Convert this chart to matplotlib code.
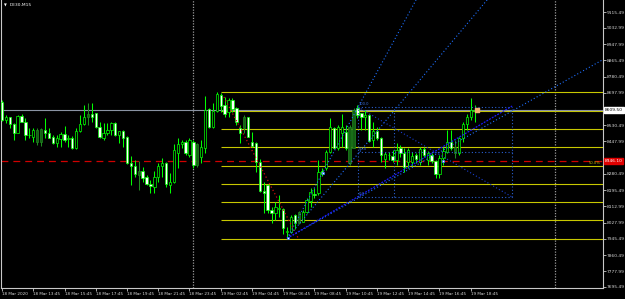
import numpy as np
import matplotlib.pyplot as plt

# --- candles (DE30, M15) ---
opens = [8652, 8558, 8572, 8537, 8492, 8579, 8546, 8480, 8472, 8446, 8446, 8506, 8489, 8472, 8437, 8460,
         8484, 8458, 8463, 8412, 8503, 8536, 8575, 8587, 8592, 8523, 8466, 8492, 8506, 8541, 8480, 8501,
         8472, 8334, 8322, 8274, 8294, 8265, 8227, 8213, 8265, 8320, 8334, 8222, 8239, 8386, 8432, 8443,
         8377, 8443, 8325, 8368, 8415, 8613, 8523, 8604, 8687, 8635, 8601, 8661, 8618, 8518, 8518, 8572,
         8443, 8441, 8342, 8191, 8222, 8093, 8076, 8098, 8098, 7979, 7981, 8067, 8024, 8033, 8084, 8139,
         8176, 8179, 8294, 8308, 8394, 8515, 8412, 8489, 8497, 8334, 8412, 8618, 8592, 8572, 8584, 8455,
         8501, 8463, 8356, 8377, 8373, 8351, 8412, 8386, 8339, 8339, 8377, 8342, 8408, 8351, 8377, 8346,
         8277, 8363, 8394, 8446, 8386, 8386, 8463, 8536, 8575, 8604]
highs = [8661, 8584, 8575, 8541, 8584, 8587, 8567, 8515, 8515, 8515, 8515, 8567, 8515, 8480, 8480, 8497,
         8527, 8480, 8475, 8515, 8584, 8635, 8644, 8644, 8596, 8549, 8541, 8541, 8549, 8546, 8501, 8506,
         8475, 8372, 8351, 8346, 8317, 8274, 8248, 8294, 8334, 8363, 8343, 8282, 8432, 8463, 8455, 8455,
         8463, 8455, 8437, 8455, 8682, 8618, 8644, 8701, 8696, 8678, 8670, 8670, 8626, 8532, 8584, 8575,
         8497, 8443, 8356, 8239, 8226, 8110, 8136, 8171, 8102, 8007, 8067, 8071, 8088, 8093, 8153, 8205,
         8205, 8351, 8311, 8403, 8567, 8523, 8532, 8587, 8532, 8532, 8618, 8635, 8592, 8610, 8587, 8549,
         8523, 8472, 8394, 8394, 8403, 8437, 8429, 8412, 8415, 8394, 8386, 8420, 8420, 8398, 8386, 8351,
         8377, 8420, 8506, 8506, 8455, 8472, 8549, 8587, 8670, 8635]
lows = [8553, 8541, 8515, 8455, 8489, 8546, 8455, 8463, 8446, 8429, 8424, 8463, 8463, 8432, 8420, 8420,
        8446, 8420, 8408, 8408, 8497, 8532, 8532, 8549, 8518, 8463, 8455, 8480, 8480, 8477, 8437, 8420,
        8331, 8222, 8265, 8196, 8239, 8222, 8179, 8182, 8239, 8265, 8213, 8182, 8231, 8308, 8412, 8377,
        8368, 8308, 8317, 8334, 8386, 8515, 8515, 8601, 8601, 8575, 8575, 8601, 8532, 8437, 8489, 8468,
        8420, 8288, 8188, 8079, 8076, 8027, 8041, 8058, 7969, 7947, 7973, 7997, 8019, 8030, 8076, 8110,
        8153, 8171, 8270, 8300, 8386, 8408, 8403, 8420, 8403, 8325, 8412, 8567, 8506, 8506, 8446, 8420,
        8455, 8339, 8308, 8351, 8339, 8325, 8368, 8288, 8308, 8322, 8334, 8325, 8368, 8325, 8334, 8260,
        8257, 8325, 8386, 8403, 8360, 8377, 8446, 8506, 8558, 8549]
closes = [8558, 8572, 8537, 8492, 8579, 8549, 8480, 8478, 8506, 8506, 8510, 8492, 8466, 8437, 8463, 8484,
          8455, 8466, 8412, 8503, 8536, 8575, 8587, 8575, 8520, 8472, 8492, 8506, 8541, 8480, 8501, 8466,
          8334, 8322, 8277, 8294, 8257, 8227, 8217, 8265, 8320, 8334, 8227, 8239, 8403, 8432, 8443, 8386,
          8455, 8325, 8432, 8420, 8610, 8523, 8604, 8691, 8632, 8587, 8661, 8615, 8549, 8492, 8575, 8472,
          8425, 8342, 8191, 8179, 8093, 8076, 8110, 8103, 7999, 7985, 8058, 8024, 8081, 8084, 8145, 8184,
          8173, 8288, 8277, 8394, 8523, 8412, 8523, 8523, 8412, 8523, 8610, 8584, 8575, 8584, 8449, 8501,
          8463, 8377, 8381, 8376, 8351, 8403, 8386, 8317, 8403, 8373, 8356, 8408, 8377, 8386, 8346, 8277,
          8363, 8398, 8446, 8412, 8420, 8463, 8536, 8575, 8610, 8610]
dim_bars = [9, 10, 22, 35, 50, 62, 76, 89, 90, 116]

# --- axis labels ---
time_labels = ["18 Mar 2020", "18 Mar 13:45", "18 Mar 15:45", "18 Mar 17:45", "18 Mar 19:45",
               "18 Mar 21:45", "18 Mar 23:45", "19 Mar 02:45", "19 Mar 04:45", "19 Mar 06:45",
               "19 Mar 08:45", "19 Mar 10:45", "19 Mar 12:45", "19 Mar 14:45", "19 Mar 16:45",
               "19 Mar 18:45"]
# labels under the two price boxes are hidden, so they are left out
price_ticks = [9115.49, 9032.99, 8947.99, 8865.49, 8780.49, 8697.99, 8530.49, 8447.99,
               8280.49, 8195.49, 8112.99, 8027.99, 7945.49, 7860.49, 7777.99, 7695.49]

# --- objects on the chart ---
bid_price = 8609.50
red_level = 8346.1
fib_levels = [8700, 8605, 8510, 8417, 8322, 8227, 8133, 8040, 7942]
fib_start = 56.1
separators = [49.0, 141.5]
red_trend = ([56.8, 75.8], [8677, 7949])
fan_steep = ([73, 106], [7947, 9178])
fan_mid = ([73, 124.2], [7947, 9178])
fan_low = ([73, 130.6], [7947, 8630])
fan_ray = ([73, 153.7], [7947, 8868])
box_x = [91.1, 100.4, 130.6]
box_levels = [8625, 8393, 8160]
box_names = ["100.0", "50.0", "0.0"]
box_diag = ([91.1, 130.6], [8625, 8160])

x_left, x_right = -0.13, 153.74
y_bottom, y_top = 7692.85, 9177.5

fig = plt.figure(figsize=(6.25, 2.99), dpi=100, facecolor="black")
ax = fig.add_axes([1.5 / 625, 11.5 / 299, 601 / 625, 287.5 / 299])
ax.set_facecolor("black")

# --- candles ---
x = np.arange(len(opens))
o = np.array(opens, float)
h = np.array(highs, float)
l = np.array(lows, float)
c = np.array(closes, float)
is_dim = np.isin(x, dim_bars)
wick_col = np.where(is_dim, "#1f8a1f", "#00ff00")
face_col = np.where(is_dim, "#146014", np.where(c >= o, "black", "white"))
ax.vlines(x, l, h, colors=wick_col, linewidth=0.75, zorder=3)
ax.bar(x, np.maximum(np.abs(c - o), 1.0), bottom=np.minimum(o, c), width=0.6,
       color=face_col, edgecolor=wick_col, linewidth=0.5, zorder=4)

# --- horizontal levels ---
ax.hlines(fib_levels, fib_start, x_right, colors="#c8c800", linewidth=0.8, zorder=2)
ax.text(x_right - 0.5, fib_levels[4] + 6, "50.0%", color="#c8c800", fontsize=2.6,
        ha="right", va="bottom", zorder=5)
ax.axhline(bid_price, color="#8a93a3", linewidth=0.8, zorder=2)
ax.axhline(red_level, color="#d00000", linewidth=0.9, linestyle=(0, (5.5, 4)), zorder=2)
for s in separators:
    ax.axvline(s, color="#9a9a9a", linewidth=0.9, linestyle=(0, (1, 1.2)), zorder=1)

# --- trend lines / fan ---
dots = (0, (1, 2))
ax.plot(*red_trend, color="#d01010", linewidth=0.9, linestyle=dots, zorder=5)
ax.plot(*fan_steep, color="#1e6fff", linewidth=0.8, linestyle=dots, zorder=5)
ax.plot(*fan_mid, color="#1e6fff", linewidth=0.8, linestyle=dots, zorder=5)
ax.plot(*fan_ray, color="#1e6fff", linewidth=0.8, linestyle=dots, zorder=5)
ax.plot(*fan_low, color="#1a1aff", linewidth=0.9, linestyle=(0, (1.5, 1)), zorder=5)

# --- dotted box with levels ---
for lv, name in zip(box_levels, box_names):
    ax.hlines(lv, box_x[0], box_x[-1], colors="#2a5fd0", linewidth=0.8, linestyles=[dots], zorder=5)
    ax.text(box_x[0] + 0.2, lv + 4, name, color="#3a70e0", fontsize=2.6, ha="left", va="bottom", zorder=6)
ax.vlines(box_x, box_levels[-1], box_levels[0], colors="#2a5fd0", linewidth=0.8, linestyles=[dots], zorder=5)
ax.plot(*box_diag, color="#1a3fd0", linewidth=0.8, linestyle=dots, zorder=5)

# --- anchor markers ---
ax.scatter([73.3, 82.3, 113.0], [7947, 8283, 8346], s=4, marker="s", facecolor="white",
           edgecolor="#1e6fff", linewidth=0.5, zorder=7)
ax.scatter([121.7], [8609.5], s=5, marker="s", facecolor="#f0b070", edgecolor="#f0b070", zorder=7)

# --- axes ---
ax.set_xlim(x_left, x_right)
ax.set_ylim(y_bottom, y_top)
ax.set_xticks(np.arange(0, 121, 8))
ax.set_xticklabels(time_labels)
for t in ax.get_xticklabels():
    t.set_ha("left")
ax.set_yticks(price_ticks)
ax.set_yticklabels([f"{v:.2f}" for v in price_ticks])
ax.yaxis.tick_right()
ax.tick_params(axis="y", length=2, width=0.6, color="#c8c8c8", labelsize=3.2,
               labelcolor="#d8d8d8", pad=1)
ax.tick_params(axis="x", length=2, width=0.6, color="#c8c8c8", labelsize=3.0,
               labelcolor="#d8d8d8", pad=1)
for side in ["left", "right", "bottom"]:
    ax.spines[side].set_color("#c8c8c8")
    ax.spines[side].set_linewidth(0.8)
ax.spines["top"].set_visible(False)

# --- price boxes on the right scale ---
ax.text(1.004, bid_price, f"{bid_price:.2f}", transform=ax.get_yaxis_transform(), fontsize=3.2,
        color="black", ha="left", va="center", zorder=8,
        bbox=dict(boxstyle="square,pad=0.15", facecolor="white", edgecolor="white"))
ax.text(1.004, red_level, f"{red_level:.2f}", transform=ax.get_yaxis_transform(), fontsize=3.2,
        color="white", ha="left", va="center", zorder=8,
        bbox=dict(boxstyle="square,pad=0.15", facecolor="#e00000", edgecolor="#e00000"))

# --- title ---
fig.text(4 / 625, 1 - 5.5 / 299, "\u25bc", color="white", fontsize=2.6, va="center")
fig.text(10 / 625, 1 - 5.5 / 299, "DE30,M15", color="white", fontsize=3.2, va="center")

fig.savefig("out.png", dpi=100, facecolor="black")
